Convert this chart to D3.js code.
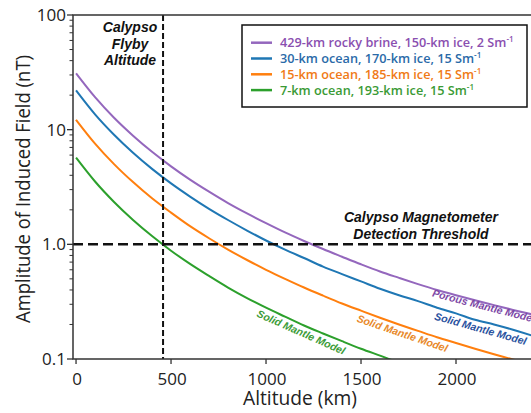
<!DOCTYPE html>
<html>
<head>
<meta charset="utf-8">
<script src="https://cdn.jsdelivr.net/npm/d3@7"></script>
<style>
  body { margin: 0; background: #fff; }
  svg { font-family: "Open Sans", "Noto Sans", sans-serif; }
</style>
</head>
<body>
<div id="chart"></div>
<script>
// altitude (km) and induced field amplitude (nT)
var altitudes = [0, 100, 200, 300, 400, 500, 600, 700, 800, 900, 1000, 1100, 1200,
                 1300, 1400, 1500, 1600, 1700, 1800, 1900, 2000, 2100, 2200, 2300, 2400];
var rockyBrine = [31, 19.2, 12.7, 8.86, 6.41, 4.79, 3.67, 2.88, 2.29, 1.86, 1.53, 1.27, 1.07,
                  0.91, 0.78, 0.67, 0.58, 0.51, 0.45, 0.40, 0.36, 0.325, 0.295, 0.268, 0.245];
var ocean30 = [22, 13.6, 9.03, 6.29, 4.55, 3.40, 2.61, 2.04, 1.63, 1.32, 1.08, 0.90, 0.76,
               0.64, 0.55, 0.475, 0.41, 0.36, 0.32, 0.28, 0.25, 0.22, 0.20, 0.18, 0.16];
var ocean15 = [12.2, 7.56, 5.01, 3.49, 2.52, 1.89, 1.44, 1.13, 0.90, 0.73, 0.60, 0.50, 0.42,
               0.357, 0.305, 0.264, 0.229, 0.20, 0.176, 0.155, 0.138, 0.123, 0.110, 0.099, 0.090];
var ocean7 = [5.7, 3.53, 2.34, 1.63, 1.18, 0.88, 0.675, 0.53, 0.42, 0.34, 0.28, 0.234, 0.196,
              0.167, 0.143, 0.123, 0.107, 0.093, 0.082, 0.073, 0.0645, 0.058, 0.052, 0.046, 0.042];

var seriesNames = ["429-km rocky brine, 150-km ice, 2 Sm", "30-km ocean, 170-km ice, 15 Sm",
                   "15-km ocean, 185-km ice, 15 Sm", "7-km ocean, 193-km ice, 15 Sm"];
var seriesValues = [rockyBrine, ocean30, ocean15, ocean7];
var lineColors = ["#9467bd", "#1f77b4", "#ff7f0e", "#2ca02c"];
var textColors = ["#8a4fb0", "#2a6aa8", "#f07a16", "#3a9a35"];

var xTicks = [0, 500, 1000, 1500, 2000];
var yMajor = [0.1, 1, 10, 100];
var yLabels = ["0.1", "1.0", "10", "100"];

var flybyAltitude = 458;
var threshold = 1.0;

// model labels along curves: [series index, altitude, text]
var curveLabels = [
  [0, 2150, "Porous Mantle Model"],
  [1, 2140, "Solid Mantle Model"],
  [2, 1730, "Solid Mantle Model"],
  [3, 1200, "Solid Mantle Model"]
];

var width = 531, height = 413;
var mLeft = 73, mTop = 15, mBottom = 359, mRight = 531;

var svg = d3.select("#chart").append("svg")
  .attr("width", width)
  .attr("height", height);

var x = d3.scaleLinear().domain([-16, 2400]).range([mLeft, 532]);
var y = d3.scaleLog().domain([0.1, 100]).range([mBottom, mTop]);

svg.append("clipPath").attr("id", "plot")
  .append("rect")
  .attr("x", mLeft).attr("y", mTop)
  .attr("width", mRight - mLeft).attr("height", mBottom - mTop);

// y ticks
var minor = [];
[0.1, 1, 10].forEach(function (d) {
  for (var k = 2; k <= 9; k++) minor.push(d * k);
});
svg.selectAll(".ymin").data(minor).enter().append("line")
  .attr("x1", mLeft - 3.5).attr("x2", mLeft)
  .attr("y1", function (d) { return y(d); })
  .attr("y2", function (d) { return y(d); })
  .attr("stroke", "#333").attr("stroke-width", 1);
svg.selectAll(".ymaj").data(yMajor).enter().append("line")
  .attr("x1", mLeft - 6).attr("x2", mLeft)
  .attr("y1", function (d) { return y(d); })
  .attr("y2", function (d) { return y(d); })
  .attr("stroke", "#333").attr("stroke-width", 1.3);
svg.selectAll(".ylab").data(yMajor).enter().append("text")
  .attr("x", mLeft - 7)
  .attr("y", function (d) { return y(d) + 6; })
  .attr("text-anchor", "end")
  .attr("font-size", 17)
  .attr("fill", "#222")
  .text(function (d, i) { return yLabels[i]; });

// x ticks
svg.selectAll(".xt").data(xTicks).enter().append("line")
  .attr("x1", function (d) { return x(d); })
  .attr("x2", function (d) { return x(d); })
  .attr("y1", mBottom).attr("y2", mBottom + 5)
  .attr("stroke", "#333").attr("stroke-width", 1.3);
svg.selectAll(".xlab").data(xTicks).enter().append("text")
  .attr("x", function (d) { return x(d) + 1; })
  .attr("y", mBottom + 26)
  .attr("text-anchor", "middle")
  .attr("font-size", 17)
  .attr("fill", "#222")
  .text(function (d) { return d; });

// axis titles
svg.append("text")
  .attr("x", 300).attr("y", 405)
  .attr("text-anchor", "middle")
  .attr("font-size", 20)
  .attr("fill", "#222")
  .attr("textLength", 114).attr("lengthAdjust", "spacingAndGlyphs")
  .text("Altitude (km)");
svg.append("text")
  .attr("transform", "translate(30,189) rotate(-90)")
  .attr("text-anchor", "middle")
  .attr("font-size", 20)
  .attr("fill", "#222")
  .attr("textLength", 268).attr("lengthAdjust", "spacingAndGlyphs")
  .text("Amplitude of Induced Field (nT)");

// curves
var line = d3.line()
  .x(function (d) { return x(d[0]); })
  .y(function (d) { return y(d[1]); })
  .curve(d3.curveMonotoneX);

var g = svg.append("g").attr("clip-path", "url(#plot)");
seriesValues.forEach(function (vals, i) {
  g.append("path")
    .datum(altitudes.map(function (a, j) { return [a, vals[j]]; }))
    .attr("d", line)
    .attr("fill", "none")
    .attr("stroke", lineColors[i])
    .attr("stroke-width", 2);
});

// dashed reference lines
g.append("line")
  .attr("x1", x(flybyAltitude)).attr("x2", x(flybyAltitude))
  .attr("y1", mTop).attr("y2", mBottom)
  .attr("stroke", "#111").attr("stroke-width", 2)
  .attr("stroke-dasharray", "6,3");
g.append("line")
  .attr("x1", mLeft).attr("x2", mRight)
  .attr("y1", y(threshold)).attr("y2", y(threshold))
  .attr("stroke", "#111").attr("stroke-width", 2.5)
  .attr("stroke-dasharray", "10,5");

// frame
svg.append("path")
  .attr("d", "M" + (mRight + 5) + "," + mTop + "H" + mLeft + "V" + mBottom + "H" + (mRight + 5))
  .attr("fill", "none")
  .attr("stroke", "#333")
  .attr("stroke-width", 1.5);

// annotations
var bold = "'Liberation Sans', Arial, sans-serif";
var flyby = svg.append("text")
  .style("font-family", bold)
  .attr("font-weight", "bold").attr("font-style", "italic")
  .attr("font-size", 14).attr("fill", "#111")
  .attr("text-anchor", "middle");
["Calypso", "Flyby", "Altitude"].forEach(function (t, i) {
  flyby.append("tspan").attr("x", 130).attr("y", 32 + i * 16.5).text(t);
});
var thr = svg.append("text")
  .style("font-family", bold)
  .attr("font-weight", "bold").attr("font-style", "italic")
  .attr("font-size", 14).attr("fill", "#111")
  .attr("text-anchor", "middle");
["Calypso Magnetometer", "Detection Threshold"].forEach(function (t, i) {
  thr.append("tspan").attr("x", 421).attr("y", 222 + i * 16.5).text(t);
});

// labels along the curves
function valueAt(vals, a) {
  var j = Math.min(Math.floor(a / 100), altitudes.length - 2);
  var t = (a - altitudes[j]) / 100;
  return Math.exp(Math.log(vals[j]) * (1 - t) + Math.log(vals[j + 1]) * t);
}
curveLabels.forEach(function (c, k) {
  var vals = seriesValues[c[0]];
  var px = x(c[1]), py = y(valueAt(vals, c[1]));
  var dx = x(c[1] + 100) - x(c[1] - 100);
  var dy = y(valueAt(vals, c[1] + 100)) - y(valueAt(vals, c[1] - 100));
  var ang = Math.atan2(dy, dx) * 180 / Math.PI;
  var off = k === 0 ? 7 : 11;
  svg.append("text")
    .attr("transform", "translate(" + px + "," + py + ") rotate(" + ang + ") translate(0," + off + ")")
    .attr("text-anchor", "middle")
    .style("font-family", bold)
    .attr("font-weight", "bold").attr("font-style", "italic")
    .attr("font-size", 10.5)
    .attr("fill", ["#7d48a6", "#2b53a0", "#e8892a", "#3c9c38"][k])
    .text(c[2]);
});

// legend
var lg = svg.append("g");
lg.append("rect")
  .attr("x", 242).attr("y", 25)
  .attr("width", 285).attr("height", 82)
  .attr("fill", "#fff").attr("stroke", "#111").attr("stroke-width", 1.5);
seriesNames.forEach(function (name, i) {
  var yy = 42.7 + i * 15.8;
  lg.append("line")
    .attr("x1", 251).attr("x2", 272)
    .attr("y1", yy).attr("y2", yy)
    .attr("stroke", lineColors[i]).attr("stroke-width", 2.5);
  var t = lg.append("text")
    .attr("x", 280).attr("y", yy + 4.5)
    .attr("font-size", 12.7).attr("font-weight", 600)
    .attr("fill", textColors[i]);
  t.append("tspan").text(name);
  t.append("tspan").attr("font-size", 8).attr("dy", -5).text("-1");
});
</script>
</body>
</html>
